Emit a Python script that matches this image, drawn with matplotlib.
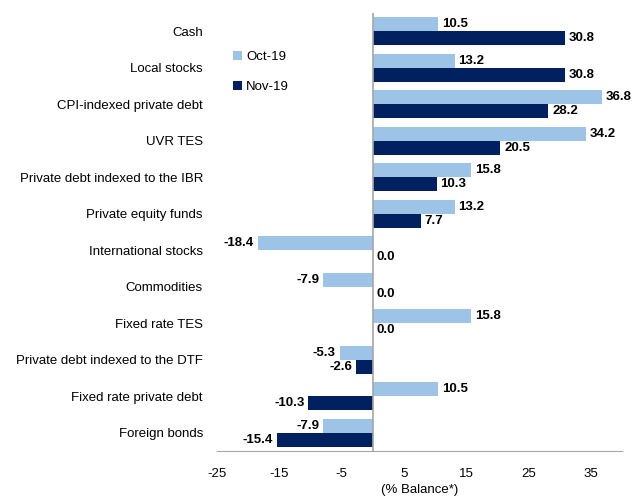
import matplotlib
matplotlib.use("Agg")
import matplotlib.pyplot as plt
import numpy as np

plt.rcParams["font.family"] = ["Liberation Sans", "DejaVu Sans"]
plt.rcParams["axes.unicode_minus"] = False

categories = [
    "Cash",
    "Local stocks",
    "CPI-indexed private debt",
    "UVR TES",
    "Private debt indexed to the IBR",
    "Private equity funds",
    "International stocks",
    "Commodities",
    "Fixed rate TES",
    "Private debt indexed to the DTF",
    "Fixed rate private debt",
    "Foreign bonds",
]
oct19 = [10.5, 13.2, 36.8, 34.2, 15.8, 13.2, -18.4, -7.9, 15.8, -5.3, 10.5, -7.9]
nov19 = [30.8, 30.8, 28.2, 20.5, 10.3, 7.7, 0.0, 0.0, 0.0, -2.6, -10.3, -15.4]
series_names = ["Oct-19", "Nov-19"]
xticks = [-25, -15, -5, 5, 15, 25, 35]

c_oct = "#9dc3e6"
c_nov = "#002060"
fs = 9.5

fig = plt.figure(figsize=(6.32, 5.0), dpi=100)
ax = fig.add_axes([0.343, 0.098, 0.641, 0.876])

y = np.arange(len(categories))
h = 0.38
ax.barh(y - h / 2, oct19, height=h, color=c_oct, label=series_names[0])
ax.barh(y + h / 2, nov19, height=h, color=c_nov, label=series_names[1])

for vals, off in [(oct19, -h / 2), (nov19, h / 2)]:
    for yi, v in zip(y, vals):
        if v < 0:
            ax.text(v - 0.6, yi + off, f"{v:.1f}", ha="right", va="center",
                    fontsize=fs, fontweight="bold")
        else:
            ax.text(v + 0.6, yi + off, f"{v:.1f}", ha="left", va="center",
                    fontsize=fs, fontweight="bold")

ax.set_ylim(len(categories) - 0.5, -0.5)
ax.set_xlim(-25, 40)
ax.set_xticks(xticks)
ax.set_yticks(y)
ax.set_yticklabels(categories, fontsize=fs)
ax.tick_params(axis="both", length=0, labelsize=fs)
ax.tick_params(axis="y", pad=10)
ax.tick_params(axis="x", pad=12)
ax.axvline(0, color="#a6a6a6", lw=1.2)
for s in ["left", "right", "top"]:
    ax.spines[s].set_visible(False)
ax.spines["bottom"].set_color("#a6a6a6")
ax.set_xlabel("(% Balance*)", fontsize=fs, labelpad=3)

ax.legend(loc="upper left", bbox_to_anchor=(0.01, 0.94), frameon=False,
          fontsize=fs, handlelength=0.7, handleheight=0.7, handletextpad=0.3,
          labelspacing=1.3)

fig.savefig("out.png", dpi=100)
